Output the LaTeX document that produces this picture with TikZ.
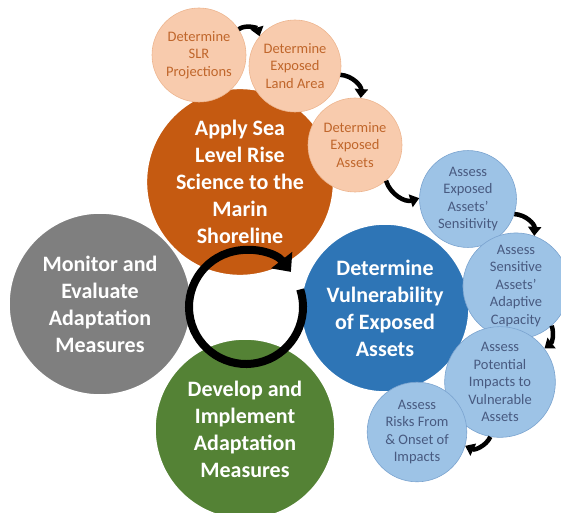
\documentclass[tikz,border=0pt]{standalone}
\usepackage{fontspec}
\setmainfont{Carlito}
\usetikzlibrary{arrows.meta}

\definecolor{stepOrange}{HTML}{C55A11}
\definecolor{stepBlue}{HTML}{2E75B6}
\definecolor{stepGray}{HTML}{7F7F7F}
\definecolor{stepGreen}{HTML}{548235}
\definecolor{subOrange}{HTML}{F8CBAD}
\definecolor{subOrangeLine}{HTML}{EDB58F}
\definecolor{subOrangeText}{HTML}{C0662B}
\definecolor{subBlue}{HTML}{9DC3E6}
\definecolor{subBlueLine}{HTML}{7AA3CF}
\definecolor{subBlueText}{HTML}{485A80}

\tikzset{
  bigstep/.style={circle, draw=white, line width=1.5pt, text=white, align=center,
    font=\fontsize{22}{27}\selectfont\bfseries},
  substep/.style={circle, line width=0.6pt, align=center, minimum size=94pt,
    font=\fontsize{14.5}{17.5}\selectfont},
  orangesub/.style={substep, fill=subOrange, draw=subOrangeLine, text=subOrangeText},
  bluesub/.style={substep, fill=subBlue, draw=subBlueLine, text=subBlueText},
  flow/.style={line width=4.5pt, -{Triangle[length=9pt,width=13pt]}}
}

\begin{document}
\begin{tikzpicture}[x=1pt,y=1pt]
\useasboundingbox (0,0) rectangle (561,512);

% main cycle
\node[bigstep, fill=stepOrange, minimum size=172pt] (apply) at (240,330) {Apply Sea\\Level Rise\\Science to the\\Marin\\Shoreline};
\node[bigstep, fill=stepGray, minimum size=182pt] (monitor) at (100,208) {Monitor and\\Evaluate\\Adaptation\\Measures};
\node[bigstep, fill=stepGreen, minimum size=180pt] (develop) at (245,83) {Develop and\\Implement\\Adaptation\\Measures};
\node[bigstep, fill=stepBlue, minimum size=168pt] (vuln) at (385,204) {Determine\\Vulnerability\\of Exposed\\Assets};

% sea level rise steps
\node[orangesub] (slr) at (199,457) {Determine\\SLR\\Projections};
\node[orangesub, minimum size=92pt] (land) at (295,446) {Determine\\Exposed\\Land Area};
\node[orangesub] (exposed) at (355,367) {Determine\\Exposed\\Assets};

% vulnerability steps
\node[bluesub, minimum size=96pt] (sens) at (468,313) {Assess\\Exposed\\Assets'\\Sensitivity};
\node[bluesub, minimum size=100pt] (adapt) at (516,226) {Assess\\Sensitive\\Assets'\\Adaptive\\Capacity};
\node[bluesub] (impacts) at (500,130) {Assess\\Potential\\Impacts to\\Vulnerable\\Assets};
\node[bluesub] (risks) at (417,80) {Assess\\Risks From\\\& Onset of\\Impacts};

\draw[flow] (slr.33) to[bend left=55] (land.140);
\draw[flow] (land.-11) to[bend left=45] (exposed.83);
\draw[flow] (exposed.-49) to[bend right=45] (sens.179);
\draw[flow] (sens.-18) to[bend left=45] (adapt.70);
\draw[flow] (adapt.-48) to[bend left=35] (impacts.37);
\draw[flow] (impacts.-100) to[bend left=45] (risks.-16);

% cycle ring
\coordinate (ring) at (246,205);
\draw[line width=8pt, -{Triangle[length=15pt,width=26pt]}]
  ([shift={(18:57pt)}]ring) arc[start angle=18, end angle=-322, radius=57pt];

\end{tikzpicture}
\end{document}
